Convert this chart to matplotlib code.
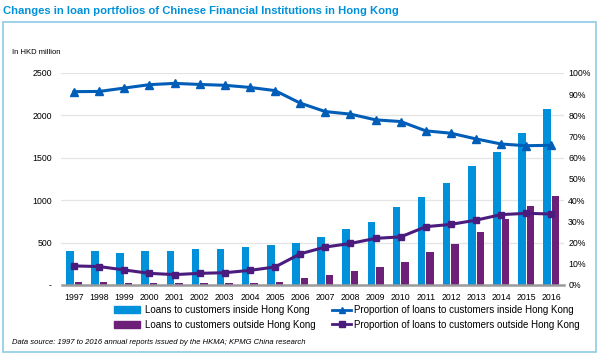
import matplotlib
matplotlib.use("Agg")
import matplotlib.pyplot as plt
import numpy as np
from matplotlib.patches import Rectangle
from matplotlib.lines import Line2D
from matplotlib.patches import Patch

plt.rcParams['font.family'] = ['Liberation Sans', 'DejaVu Sans']

years = ['1997', '1998', '1999', '2000', '2001', '2002', '2003', '2004', '2005', '2006',
         '2007', '2008', '2009', '2010', '2011', '2012', '2013', '2014', '2015', '2016']

# loans, HKD million (left axis)
loans_inside = [400, 400, 382, 400, 400, 430, 430, 449, 473, 492,
                571, 666, 741, 914, 1040, 1198, 1407, 1572, 1793, 2073]
loans_outside = [38, 35, 25, 20, 18, 18, 20, 25, 40, 79,
                 122, 162, 209, 268, 386, 481, 626, 780, 926, 1048]

# proportions, % (right axis)
share_inside = [91.2, 91.3, 92.9, 94.5, 95.1, 94.6, 94.2, 93.2, 91.7, 85.8,
                81.8, 80.6, 77.9, 77.1, 72.7, 71.6, 68.9, 66.5, 65.7, 65.9]
share_outside = [9.0, 8.7, 7.1, 5.5, 4.9, 5.5, 5.8, 6.9, 8.5, 14.7,
                 17.9, 19.6, 22.0, 22.7, 27.5, 28.6, 30.6, 33.2, 33.8, 33.5]

left_ticks = [0, 500, 1000, 1500, 2000, 2500]
left_labels = ['-', '500', '1000', '1500', '2000', '2500']
right_ticks = list(range(0, 101, 10))

c_bar_in = '#0091DA'
c_bar_out = '#6D2077'
c_line_in = '#005EB8'
c_line_out = '#4B1C7D'

W, H = 600, 358
fig = plt.figure(figsize=(6, 3.58), dpi=100)

# light blue frame
fig.add_artist(Rectangle((3 / W, 1 - 352 / H), 593 / W, 330 / H, transform=fig.transFigure,
                         fill=False, edgecolor='#8ecae6', linewidth=1.2))

fig.text(3 / W, 1 - 11 / H, 'Changes in loan portfolios of Chinese Financial Institutions in Hong Kong',
         color='#0091DA', fontsize=8.1, fontweight='bold', va='center', ha='left')
fig.text(12 / W, 1 - 52 / H, 'In HKD million', fontsize=5.5, va='center', ha='left')

ax = fig.add_axes([61.5 / W, 1 - 285 / H, (564 - 61.5) / W, (285 - 73) / H])
x = np.arange(len(years))
ax.bar(x - 0.17, loans_inside, width=0.3, color=c_bar_in, zorder=2)
ax.bar(x + 0.17, loans_outside, width=0.3, color=c_bar_out, zorder=2)
ax.set_xlim(-0.5, 19.5)
ax.set_ylim(0, 2500)
ax.set_yticks(left_ticks)
ax.set_yticklabels(left_labels)
ax.set_xticks(x)
ax.set_xticklabels(years)
ax.grid(axis='y', color='#e4e4e4', linewidth=0.9, zorder=0)
for s in ['top', 'right', 'left']:
    ax.spines[s].set_visible(False)
ax.spines['bottom'].set_color('#9a9a9a')
ax.spines['bottom'].set_linewidth(1.8)
ax.spines['bottom'].set_zorder(3)
ax.tick_params(axis='y', length=0, pad=7, labelsize=6.3)
ax.tick_params(axis='x', length=0, pad=6, labelsize=6.3)

ax2 = ax.twinx()
ax2.plot(x, share_inside, color=c_line_in, linewidth=2.2, marker='^', markersize=5.5)
ax2.plot(x, share_outside, color=c_line_out, linewidth=2.2, marker='s', markersize=5)
ax2.set_ylim(0, 100)
ax2.set_yticks(right_ticks)
ax2.set_yticklabels([f'{t}%' for t in right_ticks])
ax2.tick_params(axis='y', length=0, pad=3, labelsize=6.3)
for s in ['top', 'right', 'left', 'bottom']:
    ax2.spines[s].set_visible(False)

bar_handles = [Patch(color=c_bar_in, label='Loans to customers inside Hong Kong'),
               Patch(color=c_bar_out, label='Loans to customers outside Hong Kong')]
line_handles = [Line2D([], [], color=c_line_in, linewidth=2, marker='^', markersize=5,
                       label='Proportion of loans to customers inside Hong Kong'),
                Line2D([], [], color=c_line_out, linewidth=2, marker='s', markersize=4.5,
                       label='Proportion of loans to customers outside Hong Kong')]
fig.legend(handles=bar_handles, loc='upper left', bbox_to_anchor=(114 / W, 1 - 305 / H),
           frameon=False, fontsize=7.0, handlelength=2.7, handleheight=0.6,
           handletextpad=0.5, labelspacing=0.5, borderaxespad=0, borderpad=0)
fig.legend(handles=line_handles, loc='upper left', bbox_to_anchor=(332 / W, 1 - 305 / H),
           frameon=False, fontsize=7.0, handlelength=2.0,
           handletextpad=0.3, labelspacing=0.5, borderaxespad=0, borderpad=0)

fig.text(12 / W, 1 - 343 / H,
         'Data source: 1997 to 2016 annual reports issued by the HKMA; KPMG China research',
         fontsize=5.5, style='italic', va='center', ha='left')

fig.savefig('out.png', dpi=100)
